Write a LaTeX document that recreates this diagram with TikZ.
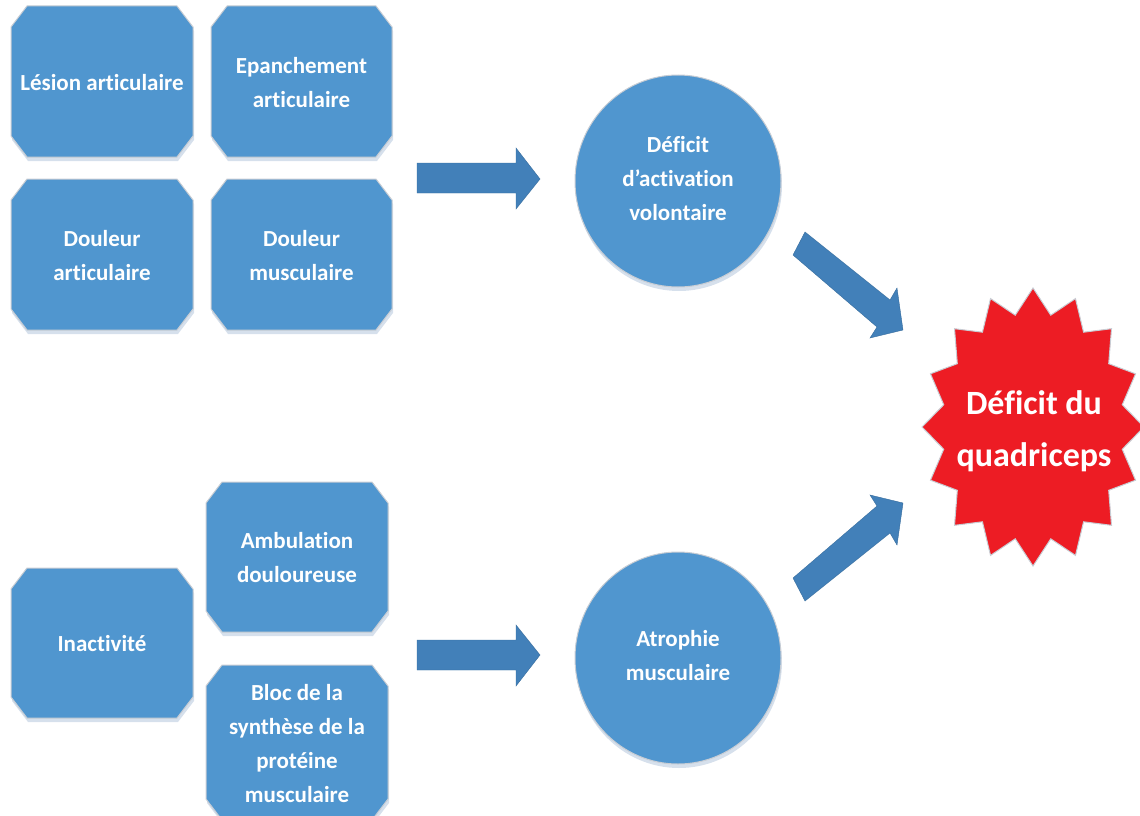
\documentclass[tikz,border=0pt]{standalone}
\usepackage{fontspec}
\setmainfont{Carlito}[Ligatures=NoCommon]
\usetikzlibrary{shapes.geometric}
\definecolor{boxblue}{RGB}{80,150,207}
\definecolor{arrblue}{RGB}{66,128,185}
\definecolor{starred}{RGB}{237,28,36}
\definecolor{edgegray}{RGB}{200,205,212}
\definecolor{shadowc}{RGB}{214,224,236}
\tikzset{
  boxsty/.style={fill=boxblue, draw=edgegray, line width=1pt, line join=round},
  shadsty/.style={fill=shadowc},
  arrsty/.style={fill=arrblue, draw=arrblue!85!black, line width=0.4pt, line join=miter},
  txt/.style={text=white, align=center, font=\fontsize{23}{34}\selectfont\bfseries, inner sep=0pt},
  bigtxt/.style={text=white, align=center, font=\fontsize{34}{52}\selectfont\bfseries, inner sep=0pt},
  circsty/.style={ellipse, fill=boxblue, draw=edgegray, line width=1pt, minimum width=206pt, minimum height=212pt, inner sep=0pt}
}
\newcommand\octobox[6]{%
  \fill[shadsty] (#2+16+1,#3+4) -- (#4-16+1,#3+4) -- (#4+1,#3+21+4) -- (#4+1,#5-21+4) -- (#4-16+1,#5+4) -- (#2+16+1,#5+4) -- (#2+1,#5-21+4) -- (#2+1,#3+21+4) -- cycle;
  \draw[boxsty] (#2+16,#3) -- (#4-16,#3) -- (#4,#3+21) -- (#4,#5-21) -- (#4-16,#5) -- (#2+16,#5) -- (#2,#5-21) -- (#2,#3+21) -- cycle;
  \node[txt] (#1) at ({(#2+#4)/2},{(#3+#5)/2+1}) {#6};
}
\begin{document}
\begin{tikzpicture}[x=1pt,y=-1pt]
\useasboundingbox (0,0) rectangle (1140,816);
\clip (0,0) rectangle (1140,816);
% top group
\octobox{lesion}{11}{6}{193}{157}{Lésion articulaire}
\octobox{epanch}{211}{6}{392}{157}{Epanchement\\articulaire}
\octobox{dart}{11}{179}{193}{330}{Douleur\\articulaire}
\octobox{dmusc}{211}{179}{392}{330}{Douleur\\musculaire}
% bottom group
\octobox{inact}{11}{568}{193}{718}{Inactivité}
\octobox{ambul}{206}{482}{388}{632}{Ambulation\\douloureuse}
\octobox{bloc}{206}{665}{388}{820}{Bloc de la\\synthèse de la\\protéine\\musculaire}
% circles
\fill[shadsty] (679,185) ellipse [x radius=103, y radius=106];
\node[circsty] (deficit) at (678,181) {};
\node[txt] at ([yshift=2pt]deficit.center) {Déficit\\d’activation\\volontaire};
\fill[shadsty] (679,662) ellipse [x radius=103, y radius=106];
\node[circsty] (atrophie) at (678,658) {};
\node[txt] at ([yshift=2pt]atrophie.center) {Atrophie\\musculaire};
% star
\begin{scope}[shift={(1033,427)}]
  \draw[fill=starred, draw=edgegray, line width=1pt, line join=miter]
    plot[variable=\k, samples at={0,...,31}]
      ({111*(1-0.18*mod(\k,2))*cos(90+11.25*\k)}, {-139*(1-0.18*mod(\k,2))*sin(90+11.25*\k)}) -- cycle;
\end{scope}
\node[bigtxt] (quad) at (1034,431) {Déficit du\\quadriceps};
% block arrows
\draw[arrsty] (417,163) -- (516,163) -- (516,148) -- (540,179) -- (516,209) -- (516,193) -- (417,193) -- cycle;
\draw[arrsty] (417,640) -- (516,640) -- (516,625) -- (540,655) -- (516,686) -- (516,670) -- (417,670) -- cycle;
\draw[arrsty] (805,232) -- (890,300) -- (897,288) -- (903,330) -- (870,338) -- (877,327) -- (793,255) -- cycle;
\draw[arrsty] (805,601) -- (890,533) -- (897,545) -- (903,503) -- (870,495) -- (877,506) -- (793,578) -- cycle;
\end{tikzpicture}
\end{document}
